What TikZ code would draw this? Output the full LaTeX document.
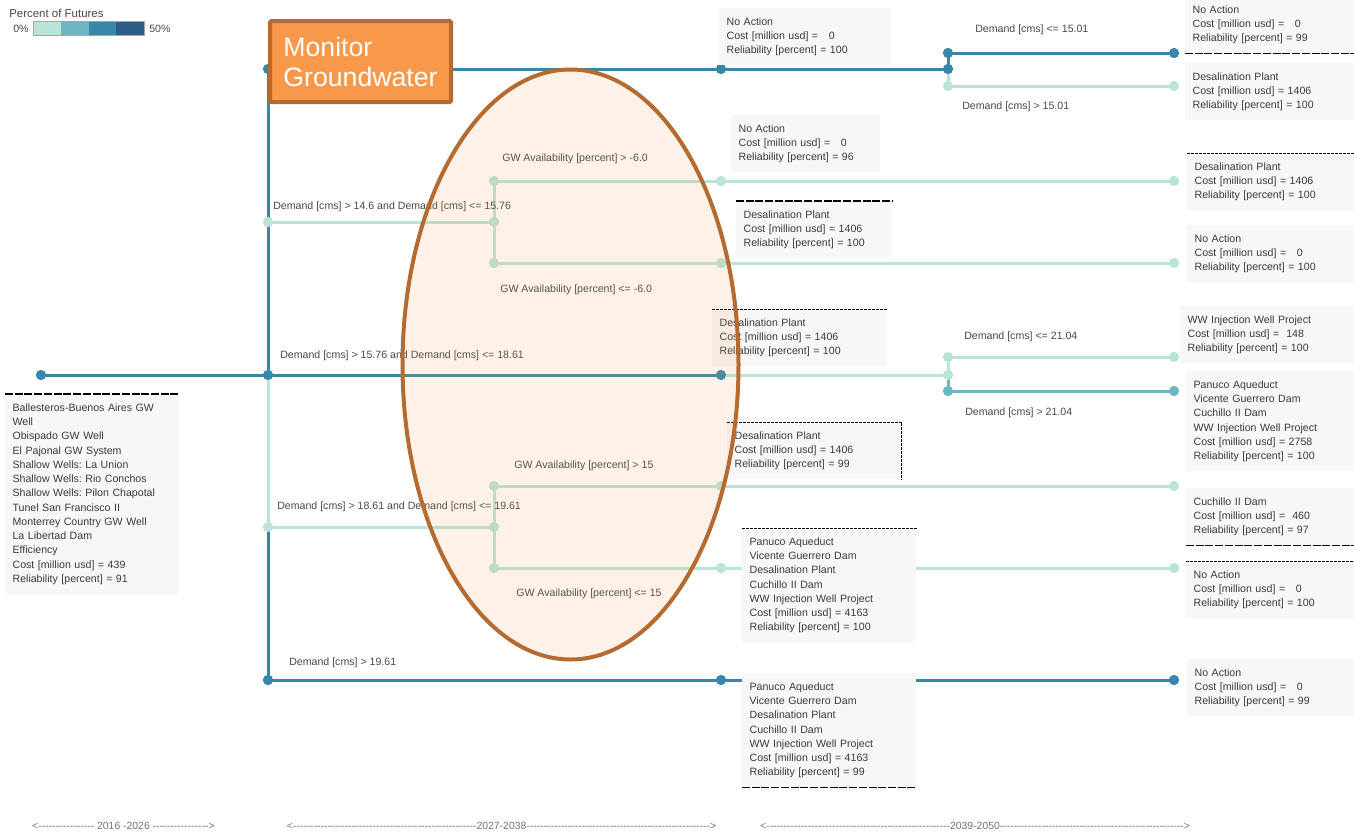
\documentclass[tikz,border=0pt]{standalone}
\usepackage{fontspec}
\setmainfont{Liberation Sans}
\usetikzlibrary{shapes.geometric}
\frenchspacing

\definecolor{darkline}{HTML}{3787AB}
\definecolor{lightline}{HTML}{BAE4D7}
\definecolor{midline}{HTML}{6CB7C3}
\definecolor{navyband}{HTML}{2C5C8A}
\definecolor{boxgray}{HTML}{F7F7F7}
\definecolor{txtgray}{HTML}{3A3A3A}
\definecolor{lblgray}{HTML}{484848}
\definecolor{axisgray}{HTML}{727272}
\definecolor{orangefill}{HTML}{F7984A}
\definecolor{ovalrim}{HTML}{B56B30}

\newcommand\boxfont{\fontsize{7.95}{10.7}\selectfont}
\newcommand\eraline[2]{\hbox to #1{<\xleaders\hbox{-}\hfill #2\xleaders\hbox{-}\hfill>}}

\tikzset{
  dot/.style={circle, inner sep=0pt, minimum size=7.5pt},
  link/.style={line width=2.25pt},
  infobox/.style={fill=boxgray, text=txtgray, inner xsep=5.5pt, inner ysep=7pt,
                  align=left, anchor=north west, font=\boxfont},
  cond/.style={text=lblgray, inner sep=0pt, anchor=west, font=\boxfont},
  finedash/.style={line width=0.75pt, dash pattern=on 2.2pt off 0.8pt},
  bolddash/.style={line width=1.1pt, dash pattern=on 6pt off 1.3pt},
  era/.style={text=axisgray, inner sep=0pt, font=\fontsize{7.8}{9}\selectfont},
  monitorbox/.style={fill=orangefill, draw=ovalrim, line width=3pt, rounded corners=1pt,
                     text=white, align=left, inner sep=0pt,
                     minimum width=135.75pt, minimum height=60.75pt,
                     font=\fontsize{20}{22.5}\selectfont},
}

\begin{document}
\begin{tikzpicture}[x=0.75pt, y=-0.75pt]
\clip (0,0) rectangle (1354,832);
\fill[white] (0,0) rectangle (1354,832);

% ---------- legend ----------
\node[anchor=west, inner sep=0pt, text=lblgray, font=\fontsize{8.6}{10}\selectfont] (legtitle) at (9,13) {Percent of Futures};
\node[anchor=west, inner sep=0pt, text=lblgray, font=\boxfont] (leglow) at (13,29) {0\%};
\node[anchor=west, inner sep=0pt, text=lblgray, font=\boxfont] (leghigh) at (149,29) {50\%};
\fill[lightline] (33,21) rectangle (60.75,35);
\fill[midline] (60.75,21) rectangle (88.5,35);
\fill[darkline] (88.5,21) rectangle (116.25,35);
\fill[navyband] (116.25,21) rectangle (144,35);
\draw[gray!70, line width=0.6pt] (33,21) rectangle (144,35);

% ---------- junction points ----------
\node[dot, fill=darkline] (root) at (41,375) {};
\node[dot, fill=darkline] (s69) at (268,69) {};
\node[dot, fill=lightline] (s222) at (268,222) {};
\node[dot, fill=darkline] (s375) at (268,375) {};
\node[dot, fill=lightline] (s527) at (268,527) {};
\node[dot, fill=darkline] (s680) at (268,680) {};

\node[dot, fill=lightline] (g181) at (494,181) {};
\node[dot, fill=lightline] (g222) at (494,222) {};
\node[dot, fill=lightline] (g263) at (494,263) {};
\node[dot, fill=lightline] (g486) at (494,486) {};
\node[dot, fill=lightline] (g527) at (494,527) {};
\node[dot, fill=lightline] (g568) at (494,568) {};

\node[dot, fill=darkline] (m69) at (721,69) {};
\node[dot, fill=lightline] (m181) at (721,181) {};
\node[dot, fill=lightline] (m263) at (721,263) {};
\node[dot, fill=darkline] (m375) at (721,375) {};
\node[dot, fill=lightline] (m486) at (721,486) {};
\node[dot, fill=lightline] (m568) at (721,568) {};
\node[dot, fill=darkline] (m680) at (721,680) {};

\node[dot, fill=darkline] (k53) at (948,53) {};
\node[dot, fill=darkline] (k69) at (948,69) {};
\node[dot, fill=lightline] (k86) at (948,86) {};
\node[dot, fill=lightline] (k357) at (948,357) {};
\node[dot, fill=lightline] (k375) at (948,375) {};
\node[dot, fill=midline] (k391) at (948,391) {};

\node[dot, fill=darkline] (e53) at (1174,53) {};
\node[dot, fill=lightline] (e86) at (1174,86) {};
\node[dot, fill=lightline] (e181) at (1174,181) {};
\node[dot, fill=lightline] (e263) at (1174,263) {};
\node[dot, fill=lightline] (e357) at (1174,357) {};
\node[dot, fill=midline] (e391) at (1174,391) {};
\node[dot, fill=lightline] (e486) at (1174,486) {};
\node[dot, fill=lightline] (e568) at (1174,568) {};
\node[dot, fill=darkline] (e680) at (1174,680) {};

% ---------- branches ----------
\draw[link, lightline] (s375.center) -- (s527.center);
\draw[link, lightline] (s222.center) -- (g222.center);
\draw[link, lightline] (g181.center) -- (g263.center);
\draw[link, lightline] (g181.center) -- (m181.center) -- (e181.center);
\draw[link, lightline] (g263.center) -- (m263.center) -- (e263.center);
\draw[link, lightline] (s527.center) -- (g527.center);
\draw[link, lightline] (g486.center) -- (g568.center);
\draw[link, lightline] (g486.center) -- (m486.center) -- (e486.center);
\draw[link, lightline] (g568.center) -- (m568.center) -- (e568.center);
\draw[link, lightline] (k69.center) -- (k86.center) -- (e86.center);
\draw[link, lightline] (m375.center) -- (k375.center);
\draw[link, lightline] (k375.center) -- (k357.center) -- (e357.center);
\draw[link, midline] (k375.center) -- (k391.center) -- (e391.center);
\draw[link, darkline] (root.center) -- (s375.center);
\draw[link, darkline] (s69.center) -- (s375.center);
\draw[link, darkline] (s527.center) -- (s680.center);
\draw[link, darkline] (s69.center) -- (m69.center) -- (k69.center);
\draw[link, darkline] (k69.center) -- (k53.center) -- (e53.center);
\draw[link, darkline] (s375.center) -- (m375.center);
\draw[link, darkline] (s680.center) -- (m680.center) -- (e680.center);

% dots on top of the branches
\foreach \n/\c in {root/darkline, s69/darkline, s222/lightline, s375/darkline, s527/lightline, s680/darkline,
  g181/lightline, g222/lightline, g263/lightline, g486/lightline, g527/lightline, g568/lightline,
  m69/darkline, m181/lightline, m263/lightline, m375/darkline, m486/lightline, m568/lightline, m680/darkline,
  k53/darkline, k69/darkline, k86/lightline, k357/lightline, k375/lightline, k391/midline,
  e53/darkline, e86/lightline, e181/lightline, e263/lightline, e357/lightline, e391/midline,
  e486/lightline, e568/lightline, e680/darkline}
  \fill[\c] (\n.center) circle [radius=3.75pt];

% ---------- first decision ----------
\node[monitorbox] (mon) at (360.5,61.5) {Monitor\\Groundwater};

\node[infobox, text width=118.75pt] (first) at (5,394) {Ballesteros-Buenos Aires GW\\Well\\Obispado GW Well\\El Pajonal GW System\\Shallow Wells: La Union\\Shallow Wells: Rio Conchos\\Shallow Wells: Pilon Chapotal\\Tunel San Francisco II\\Monterrey Country GW Well\\La Libertad Dam\\Efficiency\\Cost [million usd] = 439\\Reliability [percent] = 91};
\draw[bolddash] (first.north west) -- (first.north east);

% ---------- second stage ----------
\node[infobox, text width=118pt] (b1) at (719,8) {No Action\\Cost [million usd] = \ \ 0\\Reliability [percent] = 100};
\node[infobox, text width=100.75pt] (b2) at (731,115) {No Action\\Cost [million usd] = \ \ 0\\Reliability [percent] = 96};
\node[infobox, text width=106pt] (b3) at (736,201) {Desalination Plant\\Cost [million usd] = 1406\\Reliability [percent] = 100};
\node[infobox, text width=119.5pt] (b4) at (712,309) {Desalination Plant\\Cost [million usd] = 1406\\Reliability [percent] = 100};
\node[infobox, text width=119.5pt] (b5) at (727,422) {Desalination Plant\\Cost [million usd] = 1406\\Reliability [percent] = 99};
\node[infobox, text width=119.5pt] (b6) at (742,528) {Panuco Aqueduct\\Vicente Guerrero Dam\\Desalination Plant\\Cuchillo II Dam\\WW Injection Well Project\\Cost [million usd] = 4163\\Reliability [percent] = 100};
\node[infobox, text width=119.5pt] (b7) at (742,673) {Panuco Aqueduct\\Vicente Guerrero Dam\\Desalination Plant\\Cuchillo II Dam\\WW Injection Well Project\\Cost [million usd] = 4163\\Reliability [percent] = 99};
\draw[bolddash] (b3.north west) -- (b3.north east);
\draw[finedash] (b4.north west) -- (b4.north east);
\draw[finedash] (b5.north west) -- (b5.north east) -- (b5.south east);
\draw[finedash] (b6.north west) -- (b6.north east);
\draw[bolddash] (b7.south west) -- (b7.south east);

% ---------- third stage ----------
\node[infobox, text width=120pt] (r1) at (1185,-4) {No Action\\Cost [million usd] = \ \ 0\\Reliability [percent] = 99};
\node[infobox, text width=120pt] (r2) at (1185,63) {Desalination Plant\\Cost [million usd] = 1406\\Reliability [percent] = 100};
\node[infobox, text width=120pt] (r3) at (1187,153) {Desalination Plant\\Cost [million usd] = 1406\\Reliability [percent] = 100};
\node[infobox, text width=120pt] (r4) at (1187,225) {No Action\\Cost [million usd] = \ \ 0\\Reliability [percent] = 100};
\node[infobox, text width=125pt] (r5) at (1180,306) {WW Injection Well Project\\Cost [million usd] = \ 148\\Reliability [percent] = 100};
\node[infobox, text width=120pt] (r6) at (1186,371) {Panuco Aqueduct\\Vicente Guerrero Dam\\Cuchillo II Dam\\WW Injection Well Project\\Cost [million usd] = 2758\\Reliability [percent] = 100};
\node[infobox, text width=120pt] (r7) at (1186,488) {Cuchillo II Dam\\Cost [million usd] = \ 460\\Reliability [percent] = 97};
\node[infobox, text width=120pt] (r8) at (1186,561) {No Action\\Cost [million usd] = \ \ 0\\Reliability [percent] = 100};
\node[infobox, text width=120pt] (r9) at (1187,659) {No Action\\Cost [million usd] = \ \ 0\\Reliability [percent] = 99};
\draw[bolddash] (r1.south west) -- (r1.south east);
\draw[finedash] (r3.north west) -- (r3.north east);
\draw[bolddash] (r7.south west) -- (r7.south east);
\draw[finedash] (r8.north west) -- (r8.north east);

% ---------- branch conditions ----------
\node[cond] (c1) at (975,30) {Demand [cms] <= 15.01};
\node[cond] (c2) at (962,107) {Demand [cms] > 15.01};
\node[cond] (c3) at (502,159) {GW Availability [percent] > -6.0};
\node[cond] (c4) at (273,207) {Demand [cms] > 14.6 and Demand [cms] <= 15.76};
\node[cond] (c5) at (500,290) {GW Availability [percent] <= -6.0};
\node[cond] (c6) at (280,356) {Demand [cms] > 15.76 and Demand [cms] <= 18.61};
\node[cond] (c7) at (964,337) {Demand [cms] <= 21.04};
\node[cond] (c8) at (965,413) {Demand [cms] > 21.04};
\node[cond] (c9) at (514,466) {GW Availability [percent] > 15};
\node[cond] (c10) at (277,507) {Demand [cms] > 18.61 and Demand [cms] <= 19.61};
\node[cond] (c11) at (516,594) {GW Availability [percent] <= 15};
\node[cond] (c12) at (289,663) {Demand [cms] > 19.61};

% ---------- planning periods ----------
\node[era] (p1) at (123.5,826) {\eraline{137pt}{\ 2016 -2026\ }};
\node[era] (p2) at (501.5,826) {\eraline{322pt}{2027-2038}};
\node[era] (p3) at (975,826) {\eraline{322.5pt}{2039-2050}};

% ---------- highlighted region ----------
\node[ellipse, draw=ovalrim, line width=3pt, fill=orangefill, fill opacity=0.12,
      inner sep=0pt, minimum width=252pt, minimum height=442.5pt] (focus) at (570.5,364.5) {};
\end{tikzpicture}
\end{document}
